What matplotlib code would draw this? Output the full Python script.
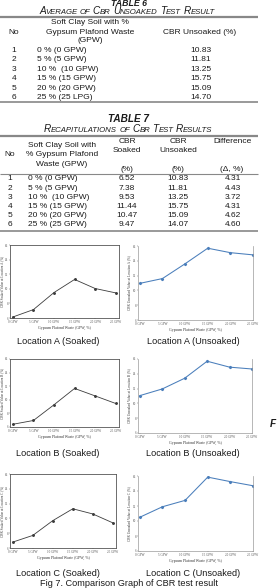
import matplotlib
matplotlib.use('Agg')
import matplotlib.pyplot as plt

# ---- data: tables ----
row_no = [1, 2, 3, 4, 5, 6]
t6_labels = ['0 % (0 GPW)', '5 % (5 GPW)', '10 %  (10 GPW)', '15 % (15 GPW)',
             '20 % (20 GPW)', '25 % (25 LPG)']
t6_unsoaked = [10.83, 11.81, 13.25, 15.75, 15.09, 14.70]

t7_labels = ['0 % (0 GPW)', '5 % (5 GPW)', '10 %  (10 GPW)', '15 % (15 GPW)',
             '20 % (20 GPW)', '25 % (25 GPW)']
t7_soaked = [6.52, 7.38, 9.53, 11.44, 10.47, 9.47]
t7_unsoaked = [10.83, 11.81, 13.25, 15.75, 15.09, 14.07]
t7_diff = [4.31, 4.43, 3.72, 4.31, 4.62, 4.60]

# ---- data: charts ----
gpw_ticks = ['0 GPW', '5 GPW', '10 GPW', '15 GPW', '20 GPW', '25 GPW']
a_soaked = [6.14, 7.15, 9.49, 11.28, 10.04, 9.44]
a_unsoaked = [10.95, 11.6, 13.6, 15.7, 15.1, 14.8]
b_soaked = [6.4, 6.96, 9.27, 11.67, 10.57, 9.46]
b_unsoaked = [11.05, 11.95, 13.4, 15.7, 14.9, 14.65]
c_soaked = [6.8, 7.7, 9.7, 11.3, 10.6, 9.4]
c_unsoaked = [10.5, 11.9, 12.75, 15.85, 15.25, 14.7]

W, H = 279, 588
plt.rcParams['font.family'] = ['Liberation Sans', 'DejaVu Sans']
fig = plt.figure(figsize=(W / 100, H / 100), dpi=100)
fig.patch.set_facecolor('white')

# page canvas in pixel coords
bg = fig.add_axes([0, 0, 1, 1])
bg.set_xlim(0, W)
bg.set_ylim(H, 0)
bg.axis('off')
renderer = fig.canvas.get_renderer()

FS = 6.0
INK = '#1a1a1a'


def txt(x, y, s, ha='left', size=FS, **kw):
    return bg.text(x, y, s, ha=ha, va='center', fontsize=size, color=INK, **kw)


def smallcaps(xc, y, text, big=7.2, small=5.6):
    # fake small caps: first letter of each word big, rest small upper case
    pieces = []
    for i, word in enumerate(text.split(' ')):
        if i > 0:
            pieces.append((' ', small))
        if word.lower() == 'of':
            pieces.append((word.upper(), small))
        else:
            pieces.append((word[0], big))
            if len(word) > 1:
                pieces.append((word[1:].upper(), small))
    objs = []
    for s, sz in pieces:
        t = bg.text(0, y, s, ha='left', va='baseline', fontsize=sz, style='italic', color=INK)
        objs.append(t)
    widths = [o.get_window_extent(renderer).width for o in objs]
    x = xc - sum(widths) / 2
    for o, w in zip(objs, widths):
        o.set_x(x)
        x += w


def hline(y, x0=0, x1=258, lw=0.6, c='#888888'):
    bg.plot([x0, x1], [y, y], color=c, lw=lw, solid_capstyle='butt')


# ---- TABLE 6 ----
txt(129, 3.2, 'TABLE 6', ha='center', size=6.3, weight='bold', style='italic')
smallcaps(127, 14.2, 'Average of CBR Unsoaked Test Result')
hline(16.5, lw=1.6)
txt(90, 22.7, 'Soft Clay Soil with %', ha='center')
txt(90, 32, 'Gypsum Plafond Waste', ha='center')
txt(90, 41, '(GPW)', ha='center')
txt(14, 32, 'No', ha='center')
txt(200, 32, 'CBR Unsoaked (%)', ha='center')
for i in range(len(row_no)):
    y = 50.5 + 9.4 * i
    txt(14, y, str(row_no[i]), ha='center')
    txt(37, y, t6_labels[i])
    txt(201, y, f'{t6_unsoaked[i]:.2f}', ha='center')
hline(102, lw=1.2)

# ---- TABLE 7 ----
txt(129, 119, 'TABLE 7', ha='center', size=7.2, weight='bold', style='italic')
smallcaps(128, 132.5, 'Recapitulations of CBR Test Results')
hline(136, lw=1.6)
txt(10, 155, 'No', ha='center')
txt(62, 145.7, 'Soft Clay Soil with', ha='center')
txt(62, 155, '% Gypsum Plafond', ha='center')
txt(62, 164.3, 'Waste (GPW)', ha='center')
txt(127, 141.7, 'CBR', ha='center')
txt(127, 150.7, 'Soaked', ha='center')
txt(127, 169.3, '(%)', ha='center')
txt(178, 141.7, 'CBR', ha='center')
txt(178, 150.7, 'Unsoaked', ha='center')
txt(178, 169.3, '(%)', ha='center')
txt(232, 141.7, 'Difference', ha='center')
txt(232, 169.3, '(\u0394, %)', ha='center')
hline(174, lw=0.8)
for i in range(len(row_no)):
    y = 179 + 9.2 * i
    txt(10, y, str(row_no[i]), ha='center')
    txt(27.5, y, t7_labels[i])
    txt(127, y, f'{t7_soaked[i]:.2f}', ha='center')
    txt(178, y, f'{t7_unsoaked[i]:.2f}', ha='center')
    txt(233, y, f'{t7_diff[i]:.2f}', ha='center')
hline(231, lw=1.2)


# ---- small charts ----
def chart(box, vals, kind, loc):
    l, t, r, b = box
    ax = fig.add_axes([l / W, 1 - b / H, (r - l) / W, (b - t) / H])
    xs = list(range(len(vals)))
    if kind == 'Soaked':
        ax.plot(xs, vals, color='#3c3c3c', lw=0.6, marker='o', ms=1.1)
        for s in ax.spines.values():
            s.set_color('#555555')
            s.set_linewidth(0.6)
        ax.set_xlim(-0.14, 5.16)
    else:
        ax.plot(xs, vals, color='#4a7ebb', lw=0.75, marker='D', ms=1.1)
        ax.spines['top'].set_visible(False)
        for k in ['left', 'bottom', 'right']:
            ax.spines[k].set_color('#9a9a9a')
            ax.spines[k].set_linewidth(0.5)
        ax.set_xlim(-0.08, 5.0)
    ax.set_ylim(6, 16)
    ax.set_yticks(range(6, 17, 2))
    ax.set_xticks(xs, gpw_ticks)
    ax.tick_params(labelsize=2.3, length=0.8, width=0.3, pad=0.5, colors='#555555')
    for lab in ax.get_xticklabels() + ax.get_yticklabels():
        lab.set_family('Liberation Serif')
    ax.set_xlabel('Gypsum Plafond Waste (GPW, %)', fontsize=2.8, labelpad=1.5,
                  family='Liberation Serif', color='#333333')
    ax.set_ylabel(f'CBR {kind} Value at Location {loc} (%)', fontsize=2.4,
                  family='Liberation Serif', color='#333333')
    if l < 20:
        # keep the rotated label on the page: park it near the left edge
        ax.yaxis.set_label_coords((4.2 - l) / (r - l), 0.5)
    else:
        ax.yaxis.set_label_coords(-0.06, 0.5)
    return ax


chart((10, 245, 119, 318), a_soaked, 'Soaked', 'A')
chart((138, 246, 253, 320), a_unsoaked, 'Unsoaked', 'A')
chart((10, 359, 119, 427), b_soaked, 'Soaked', 'B')
chart((138, 359, 252, 433), b_unsoaked, 'Unsoaked', 'B')
chart((10, 474, 116, 548), c_soaked, 'Soaked', 'C')
chart((138, 476, 253, 551), c_unsoaked, 'Unsoaked', 'C')

# captions
CS = 6.6
txt(58, 341, 'Location A (Soaked)', ha='center', size=CS)
txt(193, 341, 'Location A (Unsoaked)', ha='center', size=CS)
txt(58, 454, 'Location B (Soaked)', ha='center', size=CS)
txt(193, 454, 'Location B (Unsoaked)', ha='center', size=CS)
txt(58, 573, 'Location C (Soaked)', ha='center', size=CS)
txt(193, 573, 'Location C (Unsoaked)', ha='center', size=CS)
txt(129, 583.5, 'Fig 7. Comparison Graph of CBR test result', ha='center', size=6.6)
txt(270, 424, 'F', size=7.2, weight='bold', style='italic')

fig.savefig('out.png', dpi=100)
